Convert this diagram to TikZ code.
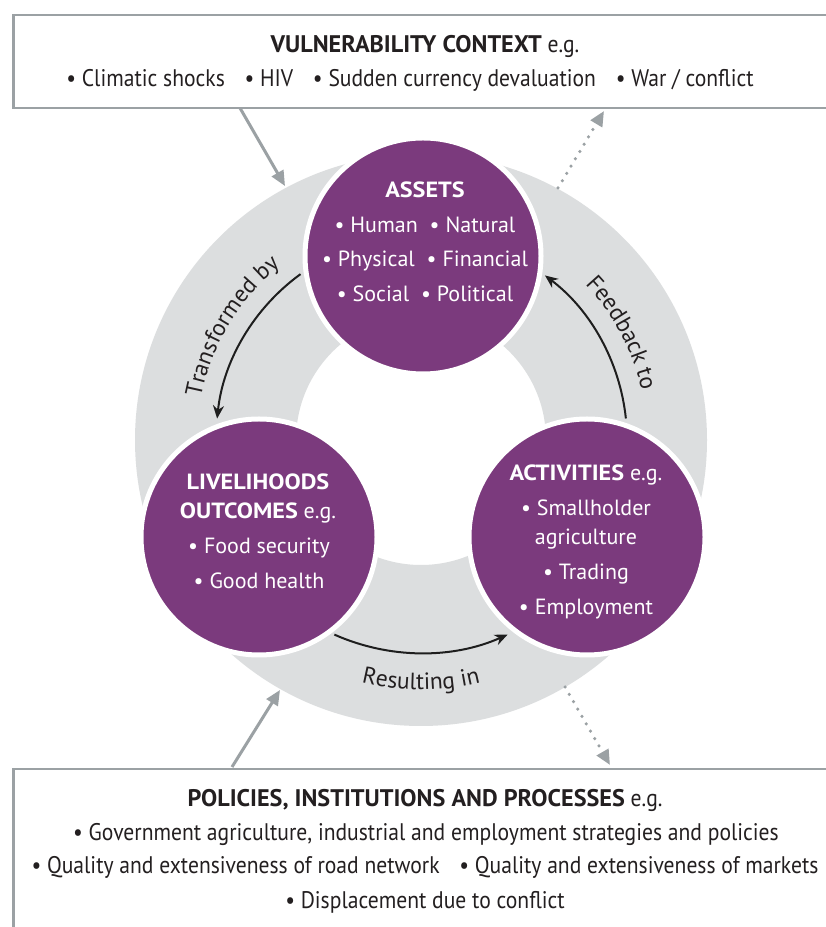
\documentclass[tikz,border=0pt]{standalone}
\usepackage{fontspec}
\setmainfont{PT Sans}
\newfontfamily\condfont[FakeStretch=0.9]{PT Sans}
\usetikzlibrary{arrows.meta,decorations.text}
\definecolor{purp}{HTML}{7B3A7D}
\definecolor{ringgray}{HTML}{DCDEDF}
\definecolor{boxgray}{HTML}{9BA1A4}
\definecolor{darkline}{HTML}{1E1E1E}
\definecolor{textdark}{HTML}{231F20}
\newcommand\mycirc{\fontsize{22}{26}\selectfont}
\newcommand\mybox{\condfont\fontsize{24}{28}\selectfont}
\newcommand\myarc{\fontsize{23.5}{27}\selectfont}
\newcommand\cbold[1]{\scalebox{1.1}[1]{\bfseries #1}}
\newcommand\bbold[1]{\scalebox{1.12}[1]{\bfseries #1}}
\begin{document}
\begin{tikzpicture}[x=1pt,y=1pt,
  ctext/.style={text=white, font=\mycirc, anchor=base, inner sep=0pt},
  btext/.style={text=textdark, font=\mybox, anchor=base, inner sep=0pt},
  purpcirc/.style={circle, fill=purp, draw=white, line width=5pt, minimum size=236pt, inner sep=0pt},
  boxstyle/.style={draw=boxgray, line width=2.5pt, fill=white, rectangle, inner sep=0pt},
  grayarrow/.style={draw=boxgray, line width=3pt, -{Triangle[length=15pt,width=13pt]}},
  dotarrow/.style={draw=boxgray, line width=3.5pt, line cap=round, dash pattern=on 0pt off 8.5pt, -{Triangle[length=15pt,width=13pt]}},
  blkarrow/.style={draw=darkline, line width=2pt, -{Stealth[length=13pt,width=11pt]}},
  arclabel/.style={decorate, decoration={text along path, text align=center, text color=textdark}}
]
\useasboundingbox (0,0) rectangle (826,927);
\clip (0,0) rectangle (826,927);
\fill[white] (0,0) rectangle (826,927);

% ring
\coordinate (C) at (421,487);
\fill[ringgray, even odd rule] (C) circle[radius=286] (C) circle[radius=125];

% circles
\node[purpcirc] (assets) at (423,671) {};
\node[purpcirc] (outcomes) at (259,390) {};
\node[purpcirc] (activities) at (587,390) {};

% circle texts
\node[ctext] (a1) at (425,729) {\cbold{ASSETS}};
\node[ctext] (a2) at (425,694) {• Human\hspace{6pt} • Natural};
\node[ctext] (a3) at (425,660) {• Physical\hspace{6pt} • Financial};
\node[ctext] (a4) at (425,625) {• Social\hspace{6pt} • Political};

\node[ctext] (o1) at (258,437) {\cbold{LIVELIHOODS}};
\node[ctext] (o2) at (258,408) {\cbold{OUTCOMES} e.g.};
\node[ctext] (o3) at (259,373) {• Food security};
\node[ctext] (o4) at (259,338) {• Good health};

\node[ctext] (t1) at (586,446) {\cbold{ACTIVITIES} e.g.};
\node[ctext] (t2) at (586,411) {• Smallholder};
\node[ctext] (t3) at (586,382) {agriculture};
\node[ctext] (t4) at (586,347) {• Trading};
\node[ctext] (t5) at (586,312) {• Employment};

% black arcs
\draw[blkarrow] ([shift={(126:205)}]C) arc[start angle=126, end angle=174, radius=205];
\draw[blkarrow] ([shift={(6:206)}]C) arc[start angle=6, end angle=53, radius=206];
\draw[blkarrow] ([shift={(246:213)}]C) arc[start angle=246, end angle=294, radius=213];

% arc labels
\path[arclabel, decoration={text={|\myarc|Transformed by}}] ([shift={(185:224)}]C) arc[start angle=185, end angle=113, radius=224];
\path[arclabel, decoration={text={|\myarc|Feedback to}}] ([shift={(64:226)}]C) arc[start angle=64, end angle=-8, radius=226];
\path[arclabel, decoration={text={|\myarc|Resulting in}}] ([shift={(240:250)}]C) arc[start angle=240, end angle=300, radius=250];

% boxes
\node[boxstyle, minimum width=828pt, minimum height=93pt, anchor=north west] (vbox) at (12,913) {};
\node[boxstyle, minimum width=828pt, minimum height=200pt, anchor=north west] (pbox) at (12,159) {};

\node[btext] (v1) at (425,874) {\bbold{VULNERABILITY CONTEXT} e.g.};
\node[btext] (v2) at (410,840) {• Climatic shocks\hspace{14pt} • HIV\hspace{14pt} • Sudden currency devaluation\hspace{14pt} • War / conflict};

\node[btext] (p1) at (425,120) {\bbold{POLICIES, INSTITUTIONS AND PROCESSES} e.g.};
\node[btext] (p2) at (426,86) {• Government agriculture, industrial and employment strategies and policies};
\node[btext] (p3) at (425,53) {• Quality and extensiveness of road network\hspace{14pt} • Quality and extensiveness of markets};
\node[btext] (p4) at (425,19) {• Displacement due to conflict};

% gray arrows
\coordinate (va) at (240,819);
\coordinate (vb) at (285,741);
\coordinate (vc) at (558,739);
\coordinate (vd) at (604,816);
\coordinate (pa) at (232,160);
\coordinate (pb) at (280,237);
\coordinate (pc) at (565,240);
\coordinate (pd) at (610,162);
\draw[grayarrow] (va) -- (vb);
\draw[dotarrow] (vc) -- (vd);
\draw[grayarrow] (pa) -- (pb);
\draw[dotarrow] (pc) -- (pd);
\end{tikzpicture}
\end{document}
